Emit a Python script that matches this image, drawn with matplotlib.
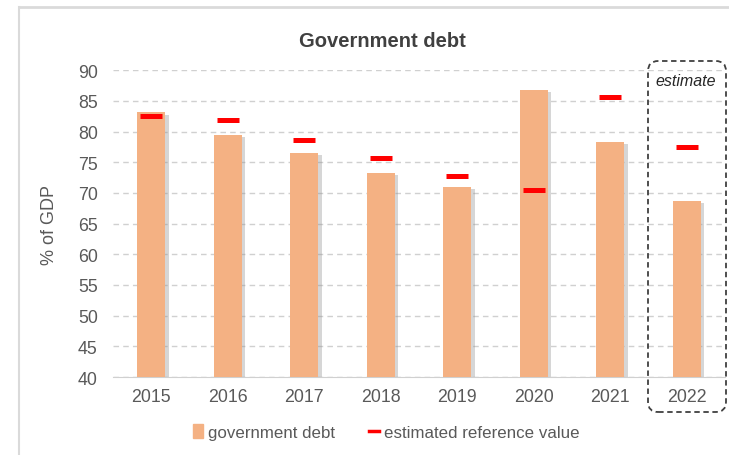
import matplotlib.pyplot as plt
from matplotlib.patches import FancyBboxPatch, Patch
from matplotlib.lines import Line2D
import matplotlib.patheffects as pe

years = ["2015", "2016", "2017", "2018", "2019", "2020", "2021", "2022"]
debt = [83.1, 79.5, 76.5, 73.3, 71.0, 86.8, 78.3, 68.7]
reference = [82.6, 81.9, 78.6, 75.7, 72.7, 70.5, 85.6, 77.5]

plt.rcParams['font.family'] = ['Liberation Sans', 'DejaVu Sans']
grey = '#595959'
bar_colour = '#F4B183'

fig = plt.figure(figsize=(7.29, 4.56), dpi=100)
ax = fig.add_axes([0.155, 0.171, 0.8395, 0.673])

x = range(len(years))
bars = ax.bar(x, debt, width=0.37, color=bar_colour, zorder=3)
for b in bars:
    b.set_path_effects([pe.SimplePatchShadow(offset=(2.5, -1.5), shadow_rgbFace='#8c8c8c', alpha=0.35),
                        pe.Normal()])
ax.plot(x, reference, ls='none', marker='_', ms=16, mew=3.6, color='#FF0000', zorder=4)

ax.set_xlim(-0.5, 7.5)
ax.set_ylim(40, 90)
ax.set_yticks(range(40, 91, 5))
ax.set_xticks(list(x))
ax.set_xticklabels(years)
ax.tick_params(length=0, labelsize=12.8, colors=grey, pad=8)
ax.tick_params(axis='y', pad=11)
ax.grid(axis='y', ls=(0, (4, 3)), color='#D0D0D0', lw=1, zorder=0)
for s in ['left', 'right', 'top']:
    ax.spines[s].set_visible(False)
ax.spines['bottom'].set_color('#D0D0D0')
ax.set_ylabel('% of GDP', fontsize=13, color=grey, labelpad=14)

fig.text(0.524, 0.91, 'Government debt', ha='center', va='center',
         fontsize=14.5, fontweight='bold', color='#404040')

# outer chart frame
fig.add_artist(Line2D([19 / 729, 19 / 729], [0, 1 - 8 / 456], color='#DADADA', lw=1.5))
fig.add_artist(Line2D([19 / 729, 1], [1 - 8 / 456, 1 - 8 / 456], color='#DADADA', lw=2))

# dashed box around the estimate year
box = FancyBboxPatch((648 / 729, 1 - 413 / 456), 78 / 729, 351 / 456,
                     boxstyle='round,pad=0,rounding_size=0.014', mutation_aspect=729 / 456,
                     transform=fig.transFigure, fill=False, ec='#404040', lw=1.3,
                     ls=(0, (3, 2)), zorder=5)
fig.add_artist(box)
fig.text(686 / 729, 1 - 82 / 456, 'estimate', ha='center', va='center',
         fontsize=11.5, style='italic', color='#262626')

handles = [Patch(color=bar_colour), Line2D([], [], color='#FF0000', lw=2.5)]
fig.legend(handles, ['government debt', 'estimated reference value'],
           loc='center', bbox_to_anchor=(0.53, 0.05), ncol=2, frameon=False,
           fontsize=12.2, labelcolor=grey, handlelength=0.6, handleheight=0.9,
           handletextpad=0.3, columnspacing=2.0)

fig.savefig('out.png', dpi=100)
